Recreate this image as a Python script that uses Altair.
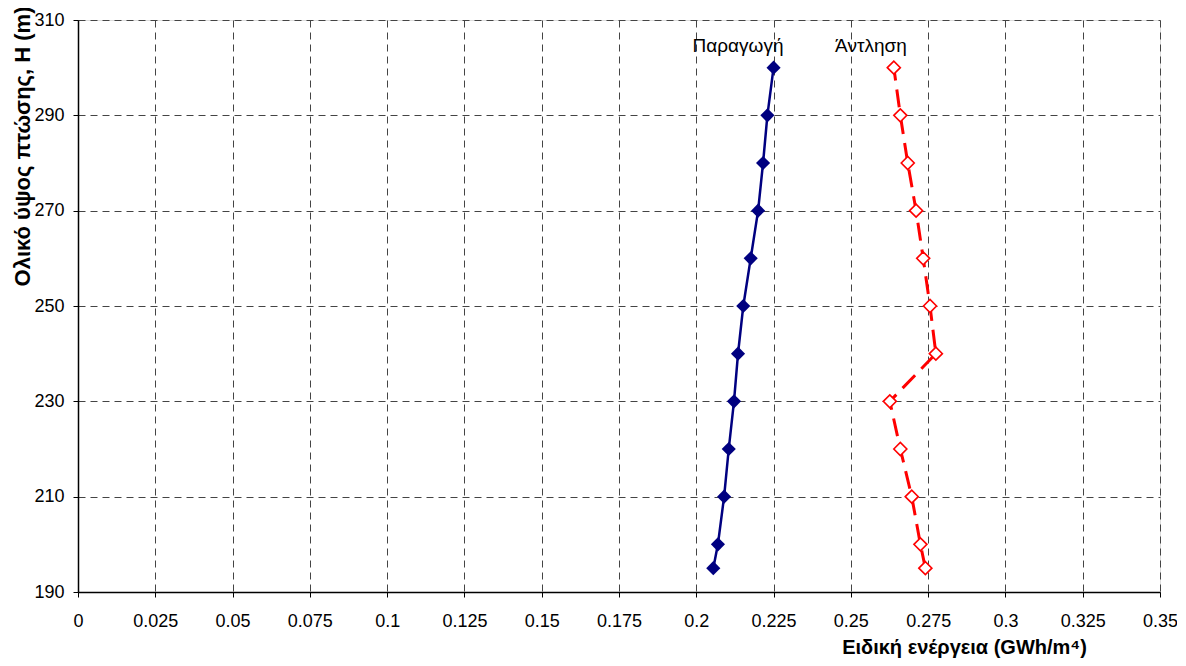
import altair as alt
import pandas as pd

heights = [300, 290, 280, 270, 260, 250, 240, 230, 220, 210, 200, 195]
production = [0.2250, 0.2230, 0.2216, 0.2200, 0.2176, 0.2152, 0.2135, 0.2122, 0.2105, 0.2090, 0.2070, 0.2055]
pumping = [0.2639, 0.2660, 0.2684, 0.2711, 0.2734, 0.2756, 0.2775, 0.2626, 0.2660, 0.2697, 0.2725, 0.2741]

label_text = ["Παραγωγή", "Άντληση"]
label_x = [0.2135, 0.2565]
label_y = [304.6, 304.6]

x_ticks = [0, 0.025, 0.05, 0.075, 0.1, 0.125, 0.15, 0.175, 0.2, 0.225, 0.25, 0.275, 0.3, 0.325, 0.35]
y_ticks = [190, 210, 230, 250, 270, 290, 310]

FONT = "Liberation Sans"

df_prod = pd.DataFrame({"H": heights, "E": production})
df_pump = pd.DataFrame({"H": heights, "E": pumping})
df_lab = pd.DataFrame({"t": label_text, "x": label_x, "y": label_y})

xscale = alt.Scale(domain=[0, 0.35], nice=False, zero=False)
yscale = alt.Scale(domain=[190, 310], nice=False, zero=False)

xaxis = alt.Axis(
    values=x_ticks, format=".3~f", title="Ειδική ενέργεια (GWh/m⁴)",
    titleX=886, titleY=55, titleBaseline="middle", titleAlign="center",
    grid=True, gridDash=[7, 5], gridColor="#444", gridWidth=1, gridOpacity=1,
    domainColor="black", domainWidth=1.5, tickColor="black", tickSize=5,
    labelPadding=15, labelFont=FONT, labelFontSize=18, labelColor="black",
    titleFont=FONT, titleFontSize=20, titleFontWeight="bold", titleColor="black",
    labelFlush=False,
)
yaxis = alt.Axis(
    values=y_ticks, title="Ολικό ύψος πτώσης, H (m)",
    titleX=-56, titleY=126, titleAngle=270, titleBaseline="middle", titleAlign="center",
    grid=True, gridDash=[7, 5], gridColor="#444", gridWidth=1, gridOpacity=1,
    domainColor="black", domainWidth=1.5, tickColor="black", tickSize=5,
    labelPadding=9, labelFont=FONT, labelFontSize=18, labelColor="black",
    titleFont=FONT, titleFontSize=22, titleFontWeight="bold", titleColor="black",
    labelFlush=False,
)

base_x = alt.X("E:Q", scale=xscale, axis=xaxis)
base_y = alt.Y("H:Q", scale=yscale, axis=yaxis)

prod_line = alt.Chart(df_prod).mark_line(color="#000080", strokeWidth=2.5).encode(
    x=base_x, y=base_y, order=alt.Order("H:Q")
)
prod_pts = alt.Chart(df_prod).mark_point(
    shape="diamond", filled=True, color="#000080", size=200, opacity=1
).encode(x="E:Q", y="H:Q")

pump_line = alt.Chart(df_pump).mark_line(
    color="#ff0000", strokeWidth=3, strokeDash=[18, 9]
).encode(x="E:Q", y="H:Q", order=alt.Order("H:Q"))
pump_pts = alt.Chart(df_pump).mark_point(
    shape="diamond", filled=True, fill="white", stroke="#ff0000",
    strokeWidth=1.6, size=170, opacity=1
).encode(x="E:Q", y="H:Q")

labels = alt.Chart(df_lab).mark_text(
    font=FONT, fontSize=19, color="black", align="center", baseline="middle"
).encode(x="x:Q", y="y:Q", text="t:N")

chart = alt.layer(prod_line, pump_line, prod_pts, pump_pts, labels).properties(
    width=1082, height=572,
    autosize=alt.AutoSizeParams(type="none"),
    padding={"left": 70, "top": 12, "right": 17, "bottom": 70},
).configure_view(stroke=None).configure(background="white")

chart.save("out.html", embed_options={"renderer": "svg", "actions": False})
